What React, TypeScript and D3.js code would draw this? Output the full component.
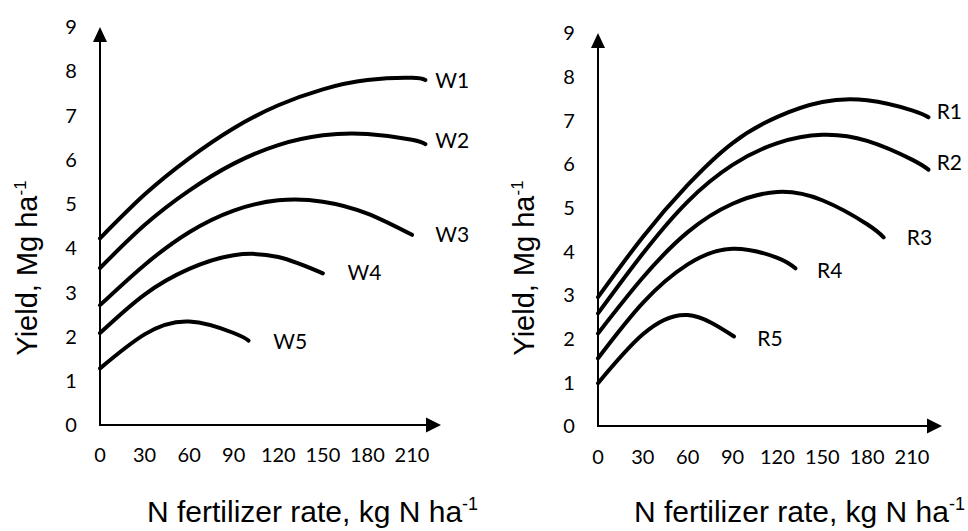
import React, { useEffect, useRef } from 'react';
import * as d3 from 'd3';

// x ticks (kg N/ha) and y ticks (Mg/ha)
const rateTicks = [0, 30, 60, 90, 120, 150, 180, 210];
const yieldTicks = [0, 1, 2, 3, 4, 5, 6, 7, 8, 9];

// wheat response curves
const wheatNames = ['W1', 'W2', 'W3', 'W4', 'W5'];
const wheatRates = [
  [0, 30, 60, 90, 120, 150, 180, 210, 219],
  [0, 30, 60, 90, 120, 150, 180, 210, 219],
  [0, 30, 60, 90, 120, 150, 180, 210],
  [0, 30, 60, 90, 120, 150],
  [0, 30, 60, 90, 100],
];
const wheatYields = [
  [4.22, 5.21, 6.03, 6.71, 7.23, 7.59, 7.8, 7.85, 7.8],
  [3.55, 4.52, 5.3, 5.91, 6.33, 6.55, 6.58, 6.45, 6.35],
  [2.71, 3.62, 4.36, 4.85, 5.08, 5.05, 4.78, 4.3],
  [2.08, 2.95, 3.53, 3.84, 3.8, 3.43],
  [1.28, 2.05, 2.34, 2.08, 1.91],
];
const wheatLabelAt = [[237, 7.8], [237, 6.43], [237, 4.3], [178, 3.44], [128, 1.88]];

// rice response curves
const riceNames = ['R1', 'R2', 'R3', 'R4', 'R5'];
const riceRates = [
  [0, 30, 60, 90, 120, 150, 180, 210, 221],
  [0, 30, 60, 90, 120, 150, 180, 210, 221],
  [0, 30, 60, 90, 120, 150, 180, 191],
  [0, 30, 60, 90, 120, 132],
  [0, 30, 60, 91],
];
const riceYields = [
  [2.95, 4.33, 5.52, 6.48, 7.08, 7.42, 7.46, 7.23, 7.07],
  [2.58, 3.95, 5.14, 5.98, 6.48, 6.67, 6.53, 6.1, 5.87],
  [2.12, 3.4, 4.44, 5.09, 5.36, 5.17, 4.62, 4.32],
  [1.55, 2.82, 3.7, 4.06, 3.85, 3.61],
  [0.98, 2.1, 2.54, 2.05],
];
const riceLabelAt = [[235, 7.21], [235, 6.04], [215, 4.32], [155, 3.57], [115, 2.01]];

const xTitle = 'N fertilizer rate, kg N ha';
const yTitle = 'Yield, Mg ha';

interface PanelLayout {
  x0: number; // pixel of rate 0
  x210: number; // pixel of rate 210
  y0: number; // pixel of yield 0
  y9: number; // pixel of yield 9
  xTip: number; // x arrow tip
  yTickX: number;
  xTickY: number;
  yTitleX: number;
  xTitleX: number;
  xTitleAnchor: string;
}

const App: React.FC = () => {
  const svgRef = useRef<SVGSVGElement>(null);

  useEffect(() => {
    document.body.style.margin = '0';
    if (!svgRef.current) return;
    const svg = d3.select(svgRef.current);
    svg.selectAll('*').remove();

    const drawPanel = (
      lay: PanelLayout,
      names: string[],
      rates: number[][],
      yields: number[][],
      labelAt: number[][]
    ) => {
      const x = d3.scaleLinear().domain([0, 210]).range([lay.x0, lay.x210]);
      const y = d3.scaleLinear().domain([0, 9]).range([lay.y0, lay.y9]);
      const g = svg.append('g');

      // axes with arrow heads
      g.append('line')
        .attr('x1', lay.x0).attr('y1', lay.y0)
        .attr('x2', lay.x0).attr('y2', lay.y9 + 12)
        .style('stroke', '#000').style('stroke-width', 2);
      g.append('path')
        .attr('d', `M${lay.x0},${lay.y9} L${lay.x0 - 7},${lay.y9 + 15} L${lay.x0 + 7},${lay.y9 + 15} Z`)
        .style('fill', '#000');
      g.append('line')
        .attr('x1', lay.x0 - 1).attr('y1', lay.y0)
        .attr('x2', lay.xTip - 12).attr('y2', lay.y0)
        .style('stroke', '#000').style('stroke-width', 2);
      g.append('path')
        .attr('d', `M${lay.xTip},${lay.y0} L${lay.xTip - 15},${lay.y0 - 7.5} L${lay.xTip - 15},${lay.y0 + 7.5} Z`)
        .style('fill', '#000');

      // tick labels
      g.selectAll('.ytick')
        .data(yieldTicks)
        .enter()
        .append('text')
        .attr('x', lay.yTickX)
        .attr('y', (d) => y(d))
        .attr('dy', '0.36em')
        .attr('text-anchor', 'middle')
        .style('font-family', 'Lato, "Open Sans", sans-serif')
        .style('font-size', '20px')
        .style('fill', '#000')
        .text((d) => d);
      g.selectAll('.xtick')
        .data(rateTicks)
        .enter()
        .append('text')
        .attr('x', (d) => x(d))
        .attr('y', lay.xTickY)
        .attr('dy', '0.36em')
        .attr('text-anchor', 'middle')
        .style('font-family', 'Lato, "Open Sans", sans-serif')
        .style('font-size', '20px')
        .style('fill', '#000')
        .text((d) => d);

      // curves
      const line = d3
        .line<[number, number]>()
        .curve(d3.curveNatural)
        .x((d) => x(d[0]))
        .y((d) => y(d[1]));
      names.forEach((_n, i) => {
        const pts = rates[i].map((r, j) => [r, yields[i][j]] as [number, number]);
        g.append('path')
          .attr('d', line(pts))
          .style('fill', 'none')
          .style('stroke', '#000')
          .style('stroke-width', 4)
          .style('stroke-linecap', 'round');
      });

      // curve labels
      g.selectAll('.clabel')
        .data(names)
        .enter()
        .append('text')
        .attr('x', (_d, i) => x(labelAt[i][0]))
        .attr('y', (_d, i) => y(labelAt[i][1]))
        .attr('dy', '0.36em')
        .attr('text-anchor', 'middle')
        .style('font-family', 'Lato, "Open Sans", sans-serif')
        .style('font-size', '21px')
        .style('fill', '#000')
        .text((d) => d);

      // axis titles
      const xt = g.append('text')
        .attr('x', lay.xTitleX)
        .attr('y', 522)
        .attr('text-anchor', lay.xTitleAnchor)
        .style('font-family', '"Liberation Sans", Arial, sans-serif')
        .style('font-size', '30px')
        .style('fill', '#000');
      xt.append('tspan').text(xTitle);
      xt.append('tspan').attr('dy', -12).style('font-size', '18px').text('-1');

      const yt = g.append('text')
        .attr('transform', `translate(${lay.yTitleX},268) rotate(-90)`)
        .attr('text-anchor', 'middle')
        .style('font-family', '"Liberation Sans", Arial, sans-serif')
        .style('font-size', '29px')
        .style('fill', '#000');
      yt.append('tspan').text(yTitle);
      yt.append('tspan').attr('dy', -11).style('font-size', '17px').text('-1');
    };

    drawPanel(
      { x0: 100, x210: 412, y0: 425, y9: 27, xTip: 441, yTickX: 71, xTickY: 455, yTitleX: 37, xTitleX: 147, xTitleAnchor: 'start' },
      wheatNames, wheatRates, wheatYields, wheatLabelAt
    );
    drawPanel(
      { x0: 598, x210: 912, y0: 426, y9: 33, xTip: 942, yTickX: 569, xTickY: 457, yTitleX: 534, xTitleX: 965, xTitleAnchor: 'end' },
      riceNames, riceRates, riceYields, riceLabelAt
    );
  }, []);

  return <svg ref={svgRef} width={968} height={531} style={{ display: 'block', background: '#fff' }}></svg>;
};

export default App;
